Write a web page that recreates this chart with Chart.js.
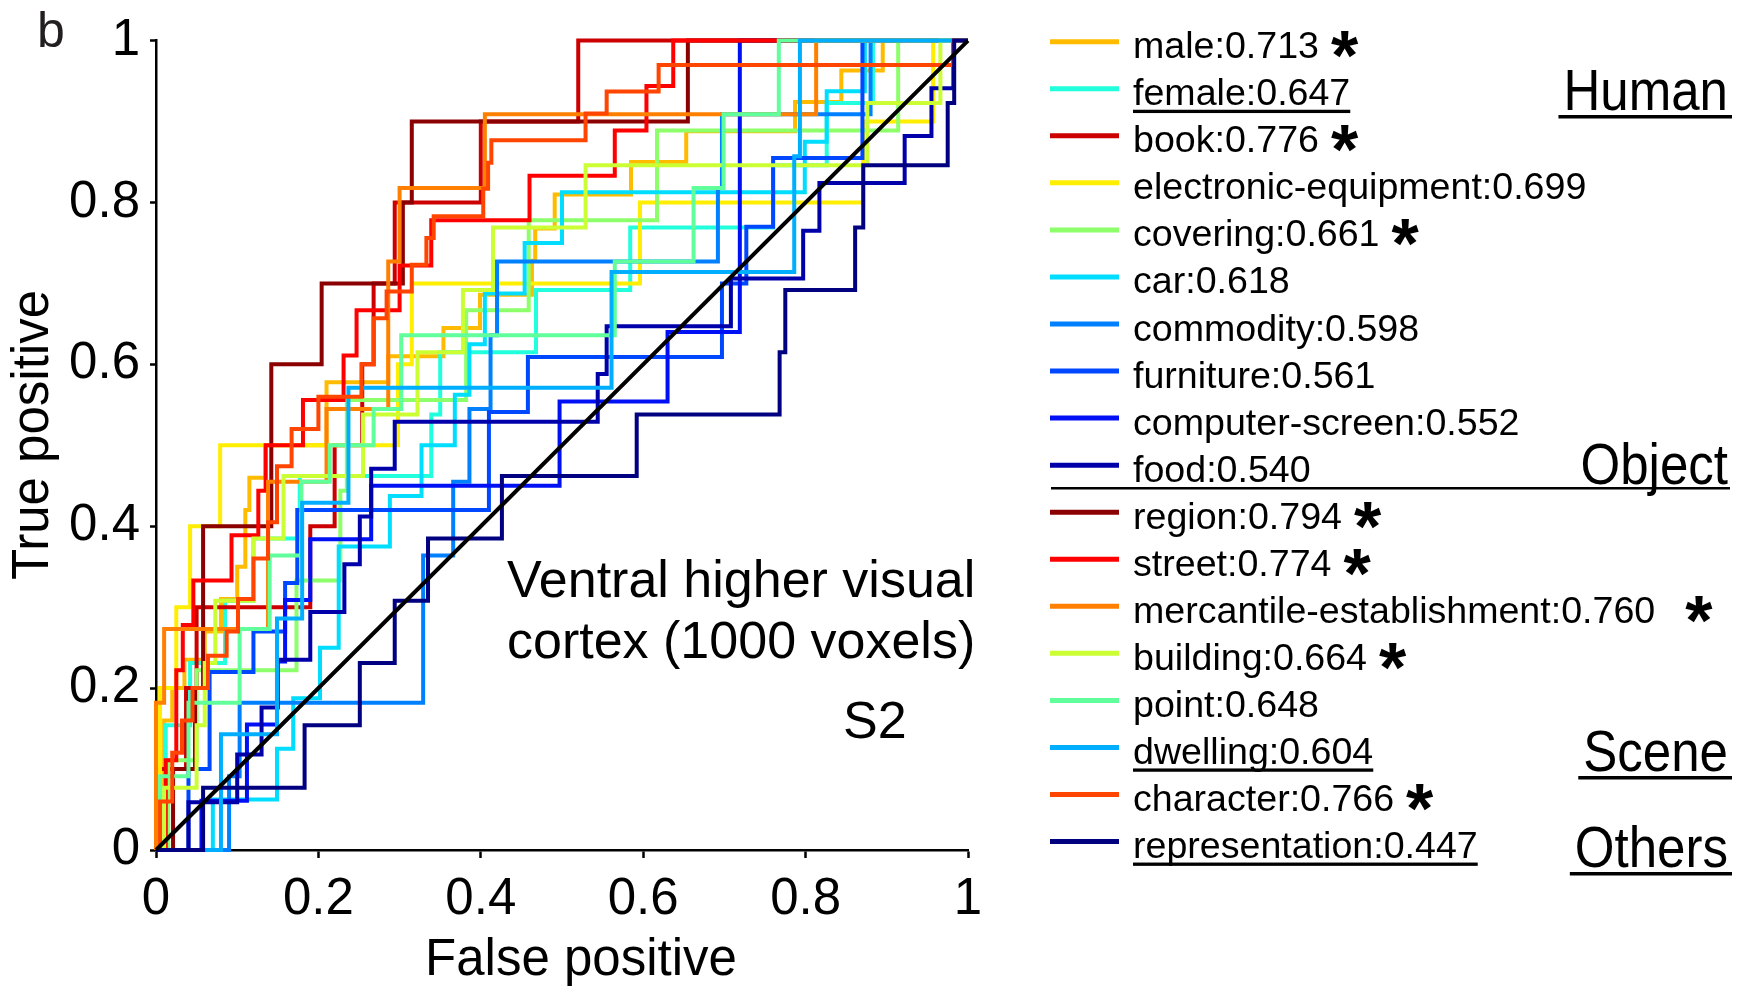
<!DOCTYPE html>
<html>
<head>
<meta charset="utf-8">
<script src="https://cdn.jsdelivr.net/npm/chart.js@4"></script>
<style>
  html, body { margin: 0; padding: 0; background: #fff; }
  #roc { display: block; }
</style>
</head>
<body>
<canvas id="roc" width="1748" height="986"></canvas>
<script>
// Categories, AUC and flags shown in the legend
const categories = ['male', 'female', 'book', 'electronic-equipment', 'covering', 'car', 'commodity',
  'furniture', 'computer-screen', 'food', 'region', 'street', 'mercantile-establishment',
  'building', 'point', 'dwelling', 'character', 'representation'];
const aucValues = [0.713, 0.647, 0.776, 0.699, 0.661, 0.618, 0.598, 0.561, 0.552, 0.540,
  0.794, 0.774, 0.760, 0.664, 0.648, 0.604, 0.766, 0.447];
const significant = [1, 0, 1, 0, 1, 0, 0, 0, 0, 0, 1, 1, 1, 1, 0, 0, 1, 0];
const underlined = [0, 1, 0, 0, 0, 0, 0, 0, 0, 0, 0, 0, 0, 0, 0, 1, 0, 1];
const groupLabels = ['Human', 'Object', 'Scene', 'Others'];
const tickValues = [0, 0.2, 0.4, 0.6, 0.8, 1];

// jet colours, one per category
const colors = ['#FFBB00', '#22FFDD', '#CC0000', '#FFEE00', '#8CFF6A', '#00DDFF', '#0080FF',
  '#0048FF', '#0010F5', '#0000AA', '#8B0000', '#FF0000', '#FF8000',
  '#CCFF33', '#60FF9C', '#00AEFF', '#FF4500', '#000080'];

// ROC curves (false positive rate / true positive rate)
const maleFpr = [0, 0, 0.01, 0.01, 0.02, 0.02, 0.035, 0.035, 0.06, 0.06, 0.08, 0.08, 0.1, 0.1, 0.11, 0.11, 0.115, 0.115, 0.135, 0.135, 0.21, 0.21, 0.286, 0.286, 0.354, 0.354, 0.399, 0.399, 0.463, 0.463, 0.467, 0.467, 0.491, 0.491, 0.585, 0.585, 0.653, 0.653, 0.787, 0.787, 0.844, 0.844, 0.895, 0.895, 1];
const maleTpr = [0, 0.08, 0.08, 0.16, 0.16, 0.2, 0.2, 0.235, 0.235, 0.27, 0.27, 0.31, 0.31, 0.35, 0.35, 0.42, 0.42, 0.46, 0.46, 0.5, 0.5, 0.578, 0.578, 0.61, 0.61, 0.645, 0.645, 0.686, 0.686, 0.728, 0.728, 0.768, 0.768, 0.81, 0.81, 0.85, 0.85, 0.888, 0.888, 0.924, 0.924, 0.963, 0.963, 1, 1];

const femaleFpr = [0, 0.005, 0.005, 0.012, 0.012, 0.042, 0.042, 0.085, 0.085, 0.12, 0.12, 0.177, 0.177, 0.339, 0.339, 0.35, 0.35, 0.468, 0.468, 0.584, 0.584, 0.76, 0.76, 0.826, 0.826, 0.883, 0.883, 1];
const femaleTpr = [0, 0, 0.077, 0.077, 0.154, 0.154, 0.231, 0.231, 0.308, 0.308, 0.385, 0.385, 0.462, 0.462, 0.538, 0.538, 0.615, 0.615, 0.692, 0.692, 0.769, 0.769, 0.846, 0.846, 0.923, 0.923, 1, 1];

const bookFpr = [0, 0, 0.037, 0.037, 0.05, 0.05, 0.19, 0.19, 0.22, 0.22, 0.254, 0.254, 0.268, 0.268, 0.294, 0.294, 0.40, 0.40, 0.52, 0.52, 1];
const bookTpr = [0, 0.1, 0.1, 0.2, 0.2, 0.3, 0.3, 0.4, 0.4, 0.5, 0.5, 0.6, 0.6, 0.7, 0.7, 0.8, 0.8, 0.9, 0.9, 1, 1];

const electronicFpr = [0, 0.005, 0.005, 0.025, 0.025, 0.042, 0.042, 0.079, 0.079, 0.298, 0.298, 0.315, 0.315, 0.596, 0.596, 0.871, 0.871, 0.957, 0.957, 1];
const electronicTpr = [0, 0, 0.2, 0.2, 0.3, 0.3, 0.4, 0.4, 0.5, 0.5, 0.6, 0.6, 0.7, 0.7, 0.8, 0.8, 0.9, 0.9, 1, 1];

const coveringFpr = [0, 0.015, 0.015, 0.05, 0.05, 0.173, 0.173, 0.227, 0.227, 0.235, 0.235, 0.382, 0.382, 0.459, 0.459, 0.617, 0.617, 0.914, 0.914, 1];
const coveringTpr = [0, 0, 0.111, 0.111, 0.222, 0.222, 0.333, 0.333, 0.444, 0.444, 0.556, 0.556, 0.667, 0.667, 0.778, 0.778, 0.889, 0.889, 1, 1];

const carFpr = [0, 0.07, 0.07, 0.149, 0.149, 0.169, 0.169, 0.202, 0.202, 0.225, 0.225, 0.288, 0.288, 0.327, 0.327, 0.368, 0.368, 0.386, 0.386, 0.405, 0.405, 0.454, 0.454, 0.5, 0.5, 0.799, 0.799, 0.826, 0.826, 0.873, 0.873, 1];
const carTpr = [0, 0, 0.0625, 0.0625, 0.125, 0.125, 0.1875, 0.1875, 0.25, 0.25, 0.375, 0.375, 0.4375, 0.4375, 0.5, 0.5, 0.5625, 0.5625, 0.625, 0.625, 0.6875, 0.6875, 0.75, 0.75, 0.8125, 0.8125, 0.875, 0.875, 0.9375, 0.9375, 1, 1];

const commodityFpr = [0, 0.09, 0.09, 0.103, 0.103, 0.329, 0.329, 0.366, 0.366, 0.386, 0.386, 0.412, 0.412, 0.42, 0.42, 0.692, 0.692, 0.697, 0.697, 0.88, 0.88, 1];
const commodityTpr = [0, 0, 0.091, 0.091, 0.182, 0.182, 0.364, 0.364, 0.455, 0.455, 0.545, 0.545, 0.636, 0.636, 0.727, 0.727, 0.818, 0.818, 0.909, 0.909, 1, 1];

const furnitureFpr = [0, 0.04, 0.04, 0.066, 0.066, 0.12, 0.12, 0.159, 0.159, 0.174, 0.174, 0.41, 0.41, 0.458, 0.458, 0.697, 0.697, 0.727, 0.727, 0.76, 0.76, 0.87, 0.87, 1];
const furnitureTpr = [0, 0, 0.1, 0.1, 0.22, 0.22, 0.27, 0.27, 0.33, 0.33, 0.42, 0.42, 0.541, 0.541, 0.609, 0.609, 0.70, 0.70, 0.77, 0.77, 0.855, 0.855, 1, 1];

const screenFpr = [0, 0.056, 0.056, 0.112, 0.112, 0.149, 0.149, 0.159, 0.159, 0.19, 0.19, 0.265, 0.265, 0.497, 0.497, 0.63, 0.63, 0.719, 0.719, 1];
const screenTpr = [0, 0, 0.061, 0.061, 0.155, 0.155, 0.233, 0.233, 0.309, 0.309, 0.384, 0.384, 0.45, 0.45, 0.554, 0.554, 0.64, 0.64, 1, 1];

const foodFpr = [0, 0.04, 0.04, 0.1, 0.1, 0.13, 0.13, 0.15, 0.15, 0.19, 0.19, 0.232, 0.232, 0.251, 0.251, 0.265, 0.265, 0.294, 0.294, 0.544, 0.544, 0.555, 0.555, 0.708, 0.708, 0.797, 0.797, 0.817, 0.817, 0.922, 0.922, 0.955, 0.955, 0.982, 0.982, 1];
const foodTpr = [0, 0, 0.059, 0.059, 0.118, 0.118, 0.176, 0.176, 0.235, 0.235, 0.294, 0.294, 0.353, 0.353, 0.412, 0.412, 0.471, 0.471, 0.529, 0.529, 0.588, 0.588, 0.647, 0.647, 0.706, 0.706, 0.765, 0.765, 0.824, 0.824, 0.882, 0.882, 0.941, 0.941, 1, 1];

const regionFpr = [0, 0.021, 0.021, 0.048, 0.048, 0.058, 0.058, 0.142, 0.142, 0.204, 0.204, 0.304, 0.304, 0.315, 0.315, 0.655, 0.655, 1];
const regionTpr = [0, 0, 0.1, 0.1, 0.2, 0.2, 0.4, 0.4, 0.6, 0.6, 0.7, 0.7, 0.8, 0.8, 0.9, 0.9, 1, 1];

const streetFpr = [0, 0.012, 0.012, 0.025, 0.025, 0.033, 0.033, 0.046, 0.046, 0.093, 0.093, 0.126, 0.126, 0.135, 0.135, 0.181, 0.181, 0.231, 0.231, 0.247, 0.247, 0.30, 0.30, 0.339, 0.339, 0.46, 0.46, 0.565, 0.565, 0.604, 0.604, 0.637, 0.637, 1];
const streetTpr = [0, 0, 0.111, 0.111, 0.222, 0.222, 0.278, 0.278, 0.333, 0.333, 0.389, 0.389, 0.444, 0.444, 0.5, 0.5, 0.556, 0.556, 0.611, 0.611, 0.667, 0.667, 0.722, 0.722, 0.778, 0.778, 0.833, 0.833, 0.889, 0.889, 0.944, 0.944, 1, 1];

const mercantileFpr = [0, 0, 0.01, 0.01, 0.138, 0.138, 0.21, 0.21, 0.286, 0.286, 0.30, 0.30, 0.405, 0.405, 0.813, 0.813, 1];
const mercantileTpr = [0, 0.182, 0.182, 0.273, 0.273, 0.455, 0.455, 0.545, 0.545, 0.727, 0.727, 0.818, 0.818, 0.909, 0.909, 1, 1];

const buildingFpr = [0, 0.01, 0.01, 0.05, 0.05, 0.06, 0.06, 0.073, 0.073, 0.12, 0.12, 0.157, 0.157, 0.255, 0.255, 0.322, 0.322, 0.378, 0.378, 0.415, 0.415, 0.529, 0.529, 0.876, 0.876, 0.966, 0.966, 1];
const buildingTpr = [0, 0, 0.077, 0.077, 0.154, 0.154, 0.231, 0.231, 0.308, 0.308, 0.385, 0.385, 0.462, 0.462, 0.538, 0.538, 0.615, 0.615, 0.692, 0.692, 0.769, 0.769, 0.846, 0.846, 0.923, 0.923, 1, 1];

const pointFpr = [0, 0.005, 0.005, 0.04, 0.04, 0.103, 0.103, 0.14, 0.14, 0.179, 0.179, 0.214, 0.214, 0.268, 0.268, 0.302, 0.302, 0.565, 0.565, 0.662, 0.662, 0.699, 0.699, 0.767, 0.767, 1];
const pointTpr = [0, 0, 0.091, 0.091, 0.182, 0.182, 0.273, 0.273, 0.364, 0.364, 0.455, 0.455, 0.5, 0.5, 0.545, 0.545, 0.636, 0.636, 0.727, 0.727, 0.818, 0.818, 0.909, 0.909, 1, 1];

const dwellingFpr = [0, 0.08, 0.08, 0.149, 0.149, 0.18, 0.18, 0.237, 0.237, 0.561, 0.561, 0.786, 0.786, 0.793, 0.793, 1];
const dwellingTpr = [0, 0, 0.143, 0.143, 0.286, 0.286, 0.429, 0.429, 0.571, 0.571, 0.714, 0.714, 0.857, 0.857, 1, 1];

const characterFpr = [0, 0.005, 0.005, 0.02, 0.02, 0.032, 0.032, 0.045, 0.045, 0.064, 0.064, 0.087, 0.087, 0.101, 0.101, 0.12, 0.12, 0.138, 0.138, 0.149, 0.149, 0.167, 0.167, 0.2, 0.2, 0.253, 0.253, 0.268, 0.268, 0.284, 0.284, 0.315, 0.315, 0.333, 0.333, 0.342, 0.342, 0.403, 0.403, 0.409, 0.409, 0.413, 0.413, 0.529, 0.529, 0.555, 0.555, 0.619, 0.619, 0.982, 0.982, 1];
const characterTpr = [0, 0, 0.06, 0.06, 0.12, 0.12, 0.16, 0.16, 0.2, 0.2, 0.24, 0.24, 0.27, 0.27, 0.31, 0.31, 0.36, 0.36, 0.405, 0.405, 0.474, 0.474, 0.52, 0.52, 0.56, 0.56, 0.6, 0.6, 0.657, 0.657, 0.69, 0.69, 0.723, 0.723, 0.756, 0.756, 0.783, 0.783, 0.817, 0.817, 0.849, 0.849, 0.877, 0.877, 0.91, 0.91, 0.937, 0.937, 0.97, 0.97, 1, 1];

const representationFpr = [0, 0.058, 0.058, 0.183, 0.183, 0.251, 0.251, 0.294, 0.294, 0.335, 0.335, 0.426, 0.426, 0.592, 0.592, 0.768, 0.768, 0.775, 0.775, 0.861, 0.861, 0.871, 0.871, 0.975, 0.975, 0.983, 0.983, 1];
const representationTpr = [0, 0, 0.077, 0.077, 0.154, 0.154, 0.231, 0.231, 0.308, 0.308, 0.385, 0.385, 0.462, 0.462, 0.538, 0.538, 0.615, 0.615, 0.692, 0.692, 0.769, 0.769, 0.846, 0.846, 0.923, 0.923, 1, 1];

// chance line
const chanceFpr = [0, 1];
const chanceTpr = [0, 1];

const rocCurves = [
  [maleFpr, maleTpr], [femaleFpr, femaleTpr], [bookFpr, bookTpr], [electronicFpr, electronicTpr],
  [coveringFpr, coveringTpr], [carFpr, carTpr], [commodityFpr, commodityTpr], [furnitureFpr, furnitureTpr],
  [screenFpr, screenTpr], [foodFpr, foodTpr], [regionFpr, regionTpr], [streetFpr, streetTpr],
  [mercantileFpr, mercantileTpr], [buildingFpr, buildingTpr], [pointFpr, pointTpr],
  [dwellingFpr, dwellingTpr], [characterFpr, characterTpr], [representationFpr, representationTpr]
];

const FONT = '"Liberation Sans", Arial, Helvetica, sans-serif';

function toPoints(fpr, tpr) {
    return fpr.map((x, k) => ({ x: x, y: tpr[k] }));
}

function tickText(v) {
    const r = Math.round(v * 10) / 10;
    if (r === 0) return '0';
    if (r === 1) return '1';
    return r.toFixed(1);
}

// datasets: later categories drawn on top, chance line on top of all
const datasets = rocCurves.map((c, i) => ({
    label: categories[i],
    data: toPoints(c[0], c[1]),
    borderColor: colors[i],
    borderWidth: 4,
    borderJoinStyle: 'miter',
    borderCapStyle: 'butt',
    pointRadius: 0,
    fill: false,
    tension: 0,
    clip: false,
    order: categories.length - i
}));
datasets.push({
    label: 'chance',
    data: toPoints(chanceFpr, chanceTpr),
    borderColor: '#000000',
    borderWidth: 4,
    pointRadius: 0,
    fill: false,
    clip: false,
    order: 0
});

// legend, group labels, axis titles and panel text drawn on the canvas
const panelText = {
    id: 'panelText',
    afterDraw(chart) {
        const ctx = chart.ctx;
        ctx.save();
        ctx.textAlign = 'left';
        ctx.textBaseline = 'alphabetic';

        const rowTop = 41.7, rowGap = 47.05;
        categories.forEach((name, i) => {
            const y = rowTop + i * rowGap;
            // colour sample
            ctx.strokeStyle = colors[i];
            ctx.lineWidth = 5;
            ctx.beginPath();
            ctx.moveTo(1050, y);
            ctx.lineTo(1119, y);
            ctx.stroke();
            // label text
            const label = name + ':' + aucValues[i].toFixed(3);
            ctx.font = '37.6px ' + FONT;
            ctx.fillStyle = '#000';
            ctx.fillText(label, 1133, y + 16.5);
            const w = ctx.measureText(label).width;
            if (underlined[i]) ctx.fillRect(1133, y + 21, w, 3.3);
            if (significant[i]) {
                ctx.font = 'bold 70px ' + FONT;
                const sx = name === 'mercantile-establishment' ? 1133 + w + 30 : 1133 + w + 12;
                ctx.fillText('*', sx, y + 38.5);
            }
        });

        // separator under the object rows
        ctx.fillStyle = '#000';
        ctx.fillRect(1051, 487, 679, 2.5);

        // group labels (condensed look)
        const groupBase = [110, 484, 771, 867];
        const groupLine = [1, 0, 1, 1];
        ctx.font = '58px ' + FONT;
        ctx.textAlign = 'right';
        groupLabels.forEach((g, k) => {
            const w = ctx.measureText(g).width * 0.88;
            ctx.fillText(g, 1728, groupBase[k], w);
            if (groupLine[k]) ctx.fillRect(1728 - w - 5, groupBase[k] + 5, w + 9, 3.5);
        });

        // axis titles
        ctx.font = '51px ' + FONT;
        ctx.textAlign = 'center';
        ctx.fillText('False positive', 581, 975);
        ctx.save();
        ctx.translate(48, 435);
        ctx.rotate(-Math.PI / 2);
        ctx.fillText('True positive', 0, 0);
        ctx.restore();

        // panel letter
        ctx.textAlign = 'left';
        ctx.fillStyle = '#231f20';
        ctx.font = '50px ' + FONT;
        ctx.fillText('b', 37, 47);

        // annotation
        ctx.fillStyle = '#000';
        ctx.font = '52px ' + FONT;
        ctx.fillText('Ventral higher visual', 507, 597);
        ctx.fillText('cortex (1000 voxels)', 507, 658);
        ctx.fillText('S2', 843, 738);
        ctx.restore();
    }
};

const axisFont = { family: FONT, size: 51 };

new Chart(document.getElementById('roc'), {
    type: 'line',
    data: { datasets: datasets },
    options: {
        responsive: false,
        animation: false,
        devicePixelRatio: 1,
        layout: { padding: { left: 0, right: 780, top: 35, bottom: 0 } },
        plugins: { legend: { display: false }, tooltip: { enabled: false } },
        scales: {
            x: {
                type: 'linear',
                min: 0, max: 1,
                afterBuildTicks: (scale) => { scale.ticks = tickValues.map(v => ({ value: v })); },
                afterFit: (scale) => { scale.height = 136; },
                ticks: { font: axisFont, color: '#000', padding: 11, maxRotation: 0, callback: tickText },
                grid: { drawOnChartArea: false, drawTicks: true, tickLength: 8, tickWidth: 2.5, color: '#000' },
                border: { display: true, color: '#000', width: 2.5 }
            },
            y: {
                type: 'linear',
                min: 0, max: 1,
                afterBuildTicks: (scale) => { scale.ticks = tickValues.map(v => ({ value: v })); },
                afterFit: (scale) => { scale.width = 156; },
                ticks: { font: axisFont, color: '#000', padding: 10, callback: tickText },
                grid: { drawOnChartArea: false, drawTicks: true, tickLength: 6, tickWidth: 2.5, color: '#000' },
                border: { display: true, color: '#000', width: 2.5 }
            }
        }
    },
    plugins: [panelText]
});
</script>
</body>
</html>
